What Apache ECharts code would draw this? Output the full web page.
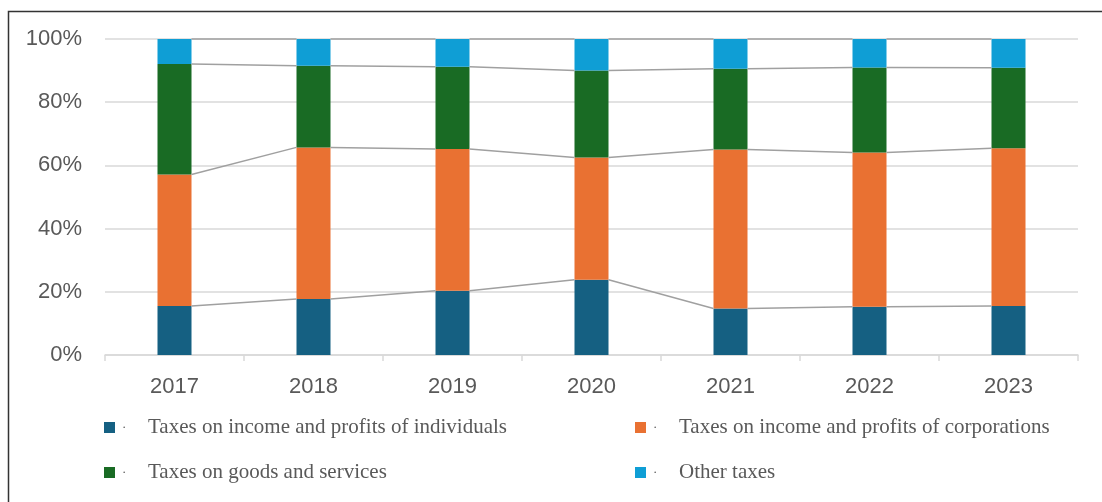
<!DOCTYPE html>
<html>
<head>
<meta charset="utf-8">
<script src="https://cdn.jsdelivr.net/npm/echarts@6/dist/echarts.min.js"></script>
<style>
  html, body { margin: 0; padding: 0; background: #fff; }
  #chart { width: 1102px; height: 502px; }
</style>
</head>
<body>
<div id="chart"></div>
<script>
// 数据
var years = ['2017', '2018', '2019', '2020', '2021', '2022', '2023'];
var individuals = [15.5, 17.7, 20.3, 23.8, 14.7, 15.3, 15.5];
var corporations = [41.6, 48.0, 44.9, 38.7, 50.3, 48.8, 49.9];
var goods = [35.0, 25.8, 26.0, 27.5, 25.6, 26.9, 25.5];
var other = [7.9, 8.5, 8.8, 10.0, 9.4, 9.0, 9.1];
var yTicks = [0, 20, 40, 60, 80, 100];

var names = [
    'Taxes on income and profits of individuals',
    'Taxes on income and profits of corporations',
    'Taxes on goods and services',
    'Other taxes'
];
var colors = ['#156082', '#E97132', '#196B24', '#0F9ED5'];
var barW = 34;

// 系列线（柱子之间的连接线）
var stacks = [individuals, corporations, goods, other];
var lineData = [];
var cum = years.map(function () { return 0; });
stacks.forEach(function (arr) {
    cum = cum.map(function (c, i) { return c + arr[i]; });
    for (var i = 0; i < years.length - 1; i++) {
        lineData.push([i, cum[i], cum[i + 1]]);
    }
});

var myChart = echarts.init(document.getElementById('chart'));

function legendFmt(name) {
    return '{d|·}{t|' + name + '}';
}
var legendText = {
    rich: {
        d: { width: 26, padding: [0, 0, 0, 2], fontSize: 13, color: '#595959', fontFamily: 'Liberation Serif', lineHeight: 22 },
        t: { fontSize: 21, color: '#595959', fontFamily: 'Liberation Serif', lineHeight: 22 }
    }
};

var series = names.map(function (n, k) {
    return {
        name: n,
        type: 'bar',
        stack: 'total',
        barWidth: barW,
        data: stacks[k],
        itemStyle: { color: colors[k] },
        z: 3
    };
});
series.push({
    type: 'custom',
    silent: true,
    z: 4,
    encode: { x: 0, y: [1, 2] },
    data: lineData,
    renderItem: function (params, api) {
        var i = api.value(0);
        var p1 = api.coord([i, api.value(1)]);
        var p2 = api.coord([i + 1, api.value(2)]);
        return {
            type: 'line',
            shape: { x1: p1[0] + barW / 2, y1: p1[1], x2: p2[0] - barW / 2, y2: p2[1] },
            style: { stroke: '#a0a0a0', lineWidth: 1.5 }
        };
    }
});

var option = {
    animation: false,
    color: colors,
    graphic: [{
        type: 'rect',
        left: 6, top: 9,
        shape: { width: 1200, height: 600 },
        style: { fill: 'none', stroke: '#333', lineWidth: 1.5 },
        silent: true
    }],
    grid: { left: 105, right: 24, top: 39, bottom: 147 },
    legend: [{
        data: [names[0], names[2]],
        orient: 'vertical',
        left: 104, top: 417, padding: 0,
        itemWidth: 11, itemHeight: 11, itemGap: 24, itemTextGap: 5,
        icon: 'rect',
        formatter: legendFmt,
        textStyle: legendText
    }, {
        data: [names[1], names[3]],
        orient: 'vertical',
        left: 635, top: 417, padding: 0,
        itemWidth: 11, itemHeight: 11, itemGap: 24, itemTextGap: 5,
        icon: 'rect',
        formatter: legendFmt,
        textStyle: legendText
    }],
    xAxis: {
        type: 'category',
        data: years,
        axisLine: { lineStyle: { color: '#d9d9d9', width: 1.5 } },
        axisTick: { show: true, length: 6, lineStyle: { color: '#d9d9d9', width: 1.5 } },
        axisLabel: { color: '#595959', fontSize: 22, fontFamily: 'Liberation Sans', margin: 21 }
    },
    yAxis: {
        type: 'value',
        min: yTicks[0],
        max: yTicks[yTicks.length - 1],
        interval: 20,
        axisLine: { show: false },
        axisTick: { show: false },
        splitLine: { lineStyle: { color: '#d9d9d9', width: 1.5 } },
        axisLabel: { color: '#595959', fontSize: 22, fontFamily: 'Liberation Sans', margin: 23, formatter: '{value}%' }
    },
    series: series
};

myChart.setOption(option);
</script>
</body>
</html>
